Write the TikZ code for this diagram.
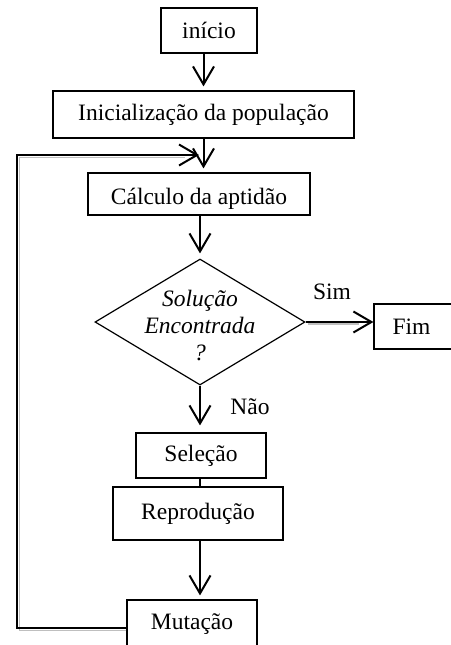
\documentclass[tikz,border=0pt]{standalone}
\usepackage{fontspec}
\setmainfont{Liberation Serif}
\usetikzlibrary{arrows.meta,shapes.geometric,calc}
\begin{document}
\begin{tikzpicture}[x=1pt,y=-1pt,
  txt/.style={font=\fontsize{23.5}{27}\selectfont},
  box/.style={draw,line width=1.2pt,rectangle,inner sep=0pt,txt},
  lbl/.style={inner sep=0pt,txt},
  arr/.style={line width=2pt,-{Straight Barb[length=18pt,width=21pt,line width=2pt]}},
  link/.style={line width=2pt},
  loopline/.style={line width=1.3pt},
  shadowline/.style={line width=1.6pt,black!25}]
\useasboundingbox (0,0) rectangle (450,645);

\node[box,minimum width=96pt,minimum height=45pt] (inicio) at (209,30.5) {início};
\node[box,minimum width=301pt,minimum height=47pt] (init) at (203.5,114.5) {Inicialização da população};
\node[box,minimum width=222pt,minimum height=42pt,text depth=0pt] (calc) at (199,194) {\raisebox{-4pt}{Cálculo da aptidão}};
\node[draw,line width=1.2pt,diamond,minimum width=210pt,minimum height=126pt,inner sep=0pt] (dec) at (200,322) {};
\node[lbl,align=center,font=\fontsize{23.5}{27}\selectfont\itshape] (dtext) at (200,326) {Solução\\Encontrada\\?};
\node[box,minimum width=78pt,minimum height=45pt] (fim) at (413,326.5) {\hspace{-3pt}Fim\hspace{3pt}};
\node[box,minimum width=130pt,minimum height=45pt] (sel) at (201,455.5) {Seleção\hspace{12pt}};
\node[box,minimum width=170pt,minimum height=53pt] (rep) at (198,513.5) {Reprodução\hspace{12pt}};
\node[box,minimum width=130pt,minimum height=48pt] (mut) at (192,624) {\raisebox{-3pt}{Mutação}\hspace{6pt}};

\node[lbl] (sim) at (332,292) {Sim};
\node[lbl] (nao) at (250,407) {Não};

% main flow
\draw[arr,shorten >=4pt] (inicio.south -| init.center) -- (init.north);
\draw[arr,shorten >=4pt] (init.south) -- (init.south |- calc.north);
\draw[arr,shorten >=5pt] (calc.south -| dec.north) -- (dec.north);
\draw[arr,shorten >=7pt] (dec.south) -- (dec.south |- sel.north);
\draw[link] (sel.south -| dec.south) -- (rep.north -| dec.south);
\draw[arr,shorten >=4pt] (rep.south -| dec.south) -- (mut.north -| dec.south);

% Sim branch
\coordinate (simend) at (fim.west |- dec.east);
\draw[shadowline] ($(dec.east)+(2,2)$) -- ($(simend)+(-14,2)$);
\draw[arr] (dec.east) -- (simend);

% loop back
\coordinate (lb) at (17,628);
\coordinate (lt) at (17,155);
\coordinate (le) at (199,155);
\draw[shadowline] ($(mut.west |- lb)+(0,2.5)$) -- ($(lb)+(2.5,2.5)$) -- ($(lt)+(2.5,2.5)$) -- ($(le)+(-14,2.5)$);
\draw[loopline,-{Straight Barb[length=18pt,width=21pt,line width=2pt]}] (mut.west |- lb) -- (lb) -- (lt) -- (le);
\end{tikzpicture}
\end{document}
